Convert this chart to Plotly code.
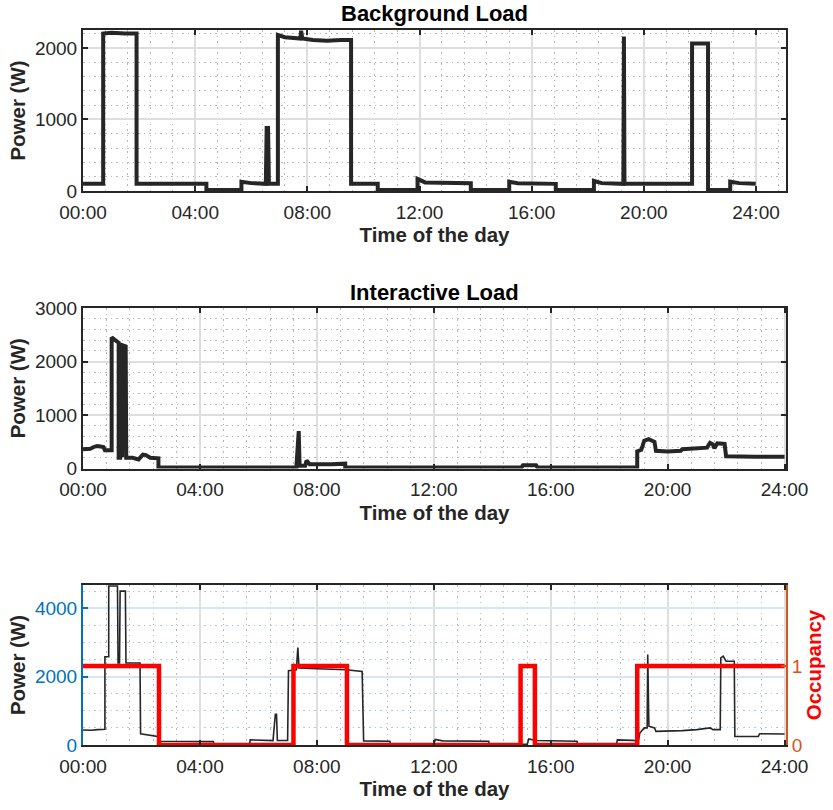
import plotly.graph_objects as go

# ---------------- data (hours of day, watts) ----------------
bg_t = [0, 0.72, 0.72, 1.0, 1.5, 1.91, 1.91, 3.0, 4.4, 4.4, 5.65, 5.65, 6.0, 6.52, 6.55, 6.6, 6.63,
        6.95, 6.95, 7.2, 7.5, 7.75, 7.78, 7.82, 8.2, 8.7, 9.2, 9.56, 9.56, 10.51, 10.51, 11.93, 11.93,
        12.2, 13.83, 13.83, 15.2, 15.2, 15.5, 16.86, 16.86, 18.22, 18.22, 18.5, 19.27, 19.29, 19.31,
        21.0, 21.72, 21.72, 22.29, 22.29, 23.08, 23.08, 23.4, 23.99]
bg_v = [100, 100, 2200, 2210, 2200, 2200, 100, 100, 100, 15, 15, 130, 110, 100, 880, 880, 100,
        100, 2180, 2150, 2140, 2130, 2240, 2130, 2110, 2100, 2110, 2110, 100, 100, 15, 15, 170,
        120, 110, 15, 15, 130, 110, 100, 15, 15, 140, 110, 100, 2160, 100,
        100, 100, 2060, 2060, 15, 15, 130, 110, 100]

ia_t = [0, 0.25, 0.4, 0.5, 0.7, 0.75, 0.98, 0.98, 1.1, 1.2, 1.22, 1.22, 1.27, 1.29, 1.31, 1.31,
        1.34, 1.36, 1.46, 1.48, 1.7, 1.9, 2.05, 2.15, 2.3, 2.58, 2.58, 7.3, 7.35, 7.38, 7.41, 7.6,
        7.65, 7.75, 8.5, 8.97, 8.97, 15.0, 15.05, 15.5, 15.55, 18.96, 18.96, 19.1, 19.2, 19.35,
        19.55, 19.6, 20.0, 20.45, 20.5, 21.0, 21.35, 21.45, 21.55, 21.6, 21.7, 21.95, 22.0, 23.0, 24.0]
ia_v = [360, 370, 410, 420, 400, 340, 340, 2450, 2400, 2350, 2350, 200, 200, 2300, 2300, 250,
        250, 2300, 2280, 200, 200, 170, 260, 250, 200, 190, 20, 20, 700, 700, 50, 50,
        150, 80, 80, 90, 20, 20, 60, 60, 20, 20, 320, 350, 520, 550,
        500, 330, 320, 330, 360, 380, 390, 480, 450, 380, 470, 460, 230, 220, 220]

tot_t = [0, 0.3, 0.5, 0.75, 0.75, 0.88, 0.88, 1.18, 1.2, 1.25, 1.27, 1.45, 1.47, 1.95, 1.97, 2.3,
         2.55, 2.57, 4.46, 4.48, 5.7, 5.72, 6.5, 6.58, 6.62, 6.65, 7.0, 7.03, 7.3, 7.35, 7.39, 8.0,
         9.0, 9.55, 9.6, 10.5, 10.52, 12.0, 12.05, 12.3, 13.88, 13.9, 15.2, 15.25, 15.5, 16.9, 16.92,
         18.25, 18.28, 19.0, 19.05, 19.2, 19.3, 19.32, 19.36, 19.55, 19.6, 20.5, 21.0, 21.45, 21.55,
         21.8, 21.82, 21.9, 22.0, 22.28, 22.3, 23.1, 23.15, 24.0]
tot_v = [440, 430, 450, 460, 2580, 2580, 4650, 4650, 2400, 2400, 4500, 4500, 2400, 2400, 330, 280,
         250, 110, 100, 20, 20, 150, 130, 900, 900, 130, 130, 2170, 2200, 2850, 2250, 2230,
         2200, 2150, 120, 110, 20, 20, 160, 120, 110, 20, 20, 180, 130, 110, 20,
         20, 150, 130, 350, 500, 500, 2650, 550, 500, 400, 420, 450, 500, 450,
         450, 2550, 2600, 2450, 2450, 250, 250, 330, 320]

occ_t = [0, 2.6, 7.2, 9.03, 14.97, 15.46, 18.96, 24.0]
occ_v = [1, 0, 1, 0, 1, 0, 1, 1]

tick_hours = [0, 4, 8, 12, 16, 20, 24]
tick_text = ["00:00", "04:00", "08:00", "12:00", "16:00", "20:00", "24:00"]

# ---------------- styling ----------------
W, H = 833, 810
FONT = "Liberation Sans, Arial, Helvetica, sans-serif"
TXT = "#262626"
BLUE = "#0072BD"
ORANGE = "#D95319"
GRID = "#dedede"
MINOR = "#b8b8b8"
BGRID = "#d7e6f3"
BMINOR = "#a9c9e6"
DOT = "1.5px,4px"
TICK = 19
LAB = 20.5

def px_x(a, b):
    return [a / W, b / W]

def px_y(top, bottom):
    return [1 - bottom / H, 1 - top / H]

XD = px_x(83, 786)

def xaxis(domain_y_anchor, rng, gridcolor=GRID, minorcolor=MINOR):
    return dict(
        domain=XD, anchor=domain_y_anchor, range=rng,
        tickmode="array", tickvals=tick_hours, ticktext=tick_text,
        ticks="inside", ticklen=5, tickwidth=2, tickcolor=TXT,
        showline=True, linecolor=TXT, linewidth=2, mirror="ticks",
        showgrid=True, gridcolor=gridcolor, gridwidth=2,
        minor=dict(tick0=0, dtick=0.8, showgrid=True, gridcolor=minorcolor, griddash=DOT, gridwidth=1),
        zeroline=False, ticklabelstandoff=3,
        tickfont=dict(family=FONT, size=TICK, color=TXT),
        title=dict(text="<b>Time of the day</b>", font=dict(family=FONT, size=LAB, color=TXT), standoff=6),
        automargin=False,
    )

def yaxis(anchor, dom, rng, dtick, mdtick, color=TXT, gridcolor=GRID, minorcolor=MINOR, mirror="ticks"):
    return dict(
        domain=dom, anchor=anchor, range=rng,
        tickmode="linear", tick0=0, dtick=dtick,
        ticks="inside", ticklen=5, tickwidth=2, tickcolor=color,
        showline=True, linecolor=color, linewidth=2, mirror=mirror,
        showgrid=True, gridcolor=gridcolor, gridwidth=2,
        minor=dict(tick0=0, dtick=mdtick, showgrid=True, gridcolor=minorcolor, griddash=DOT, gridwidth=1),
        zeroline=False,
        tickfont=dict(family=FONT, size=TICK, color=color),
        title=dict(text="<b>Power (W)</b>", font=dict(family=FONT, size=LAB, color=TXT), standoff=4),
        automargin=False,
    )

fig = go.Figure()

fig.add_trace(go.Scatter(x=bg_t, y=bg_v, mode="lines", line=dict(color=TXT, width=4),
                         xaxis="x", yaxis="y", showlegend=False))
fig.add_trace(go.Scatter(x=ia_t, y=ia_v, mode="lines", line=dict(color=TXT, width=4),
                         xaxis="x2", yaxis="y2", showlegend=False))
fig.add_trace(go.Scatter(x=tot_t, y=tot_v, mode="lines", line=dict(color=TXT, width=1.6),
                         xaxis="x3", yaxis="y3", showlegend=False))
fig.add_trace(go.Scatter(x=occ_t, y=occ_v, mode="lines", line=dict(color="#FF0000", width=4.5, shape="hv"),
                         xaxis="x3", yaxis="y4", showlegend=False))

fig.update_layout(
    width=W, height=H,
    margin=dict(l=0, r=0, t=0, b=0),
    paper_bgcolor="white", plot_bgcolor="white",
    font=dict(family=FONT, color=TXT),
    xaxis=xaxis("y", [0, 25.07]),
    yaxis=yaxis("x", px_y(30, 191), [0, 2250], 1000, 200),
    xaxis2=xaxis("y2", [0, 24.05]),
    yaxis2=yaxis("x2", px_y(308, 468.5), [0, 3000], 1000, 200),
    xaxis3=xaxis("y3", [0, 24.05]),
    yaxis3=yaxis("x3", px_y(585, 745), [0, 4680], 2000, 500, color=BLUE,
                 gridcolor=BGRID, minorcolor=BMINOR, mirror=False),
    yaxis4=dict(
        overlaying="y3", anchor="x3", side="right", range=[0, 2.025],
        tickmode="array", tickvals=[0, 1], ticktext=["0", "1"],
        ticks="inside", ticklen=5, tickwidth=2, tickcolor=ORANGE,
        showline=True, linecolor=ORANGE, linewidth=2,
        showgrid=False, zeroline=False,
        tickfont=dict(family=FONT, size=TICK, color=ORANGE),
        title=dict(text="<b>Occupancy</b>", font=dict(family=FONT, size=LAB, color="#FF0000"), standoff=4),
        automargin=False,
    ),
    annotations=[
        dict(text="<b>Background Load</b>", x=(83 + 786) / 2 / W, y=1 - 13 / H, xref="paper", yref="paper",
             xanchor="center", yanchor="middle", showarrow=False,
             font=dict(family=FONT, size=22, color="#000000")),
        dict(text="<b>Interactive Load</b>", x=(83 + 786) / 2 / W, y=1 - 292 / H, xref="paper", yref="paper",
             xanchor="center", yanchor="middle", showarrow=False,
             font=dict(family=FONT, size=22, color="#000000")),
    ],
)

fig.write_html("out.html")
